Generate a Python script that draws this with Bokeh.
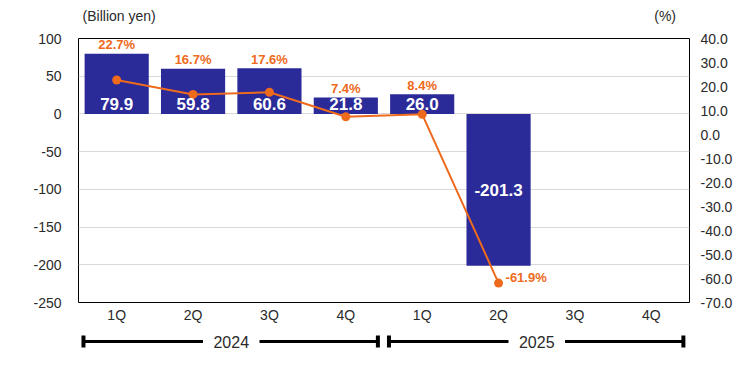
import numpy as np
from bokeh.plotting import figure
from bokeh.layouts import column
from bokeh.models import Range1d, LinearAxis, FixedTicker, NumeralTickFormatter
from bokeh.core.properties import value
from bokeh.embed import file_html
from bokeh.resources import INLINE

# ---- data ----
quarters = ["1Q", "2Q", "3Q", "4Q", "1Q", "2Q", "3Q", "4Q"]
years = ["2024", "2025"]
profit = [79.9, 59.8, 60.6, 21.8, 26.0, -201.3]      # Billion yen
margin = [22.7, 16.7, 17.6, 7.4, 8.4, -61.9]         # %
left_ticks = [100, 50, 0, -50, -100, -150, -200, -250]
right_ticks = [40, 30, 20, 10, 0, -10, -20, -30, -40, -50, -60, -70]
unit_left = "(Billion yen)"
unit_right = "(%)"

NAVY = "#2B2A99"
ORANGE = "#EE6A1C"
FONT = "Liberation Sans"
TXT = "#2A2A2A"

n = len(profit)
xs = np.arange(1, n + 1)

W = 745
BL, BR = 78, 56

# ---- top strip with unit labels ----
H0 = 28
p0 = figure(width=W, height=H0, output_backend="svg", toolbar_location=None,
            x_range=Range1d(0, W), y_range=Range1d(0, H0),
            min_border_left=0, min_border_right=0, min_border_top=0, min_border_bottom=0)
p0.axis.visible = False
p0.grid.visible = False
p0.outline_line_color = None
p0.text(x=[5], y=[13], text=[unit_left], text_font=value(FONT), text_font_size="14px",
        text_color=TXT, text_align="left", text_baseline="middle")
p0.text(x=[702], y=[13], text=[unit_right], text_font=value(FONT), text_font_size="14px",
        text_color=TXT, text_align="left", text_baseline="middle")

# ---- main chart ----
p = figure(width=W, height=302, output_backend="svg", toolbar_location=None,
           x_range=Range1d(0.5, len(quarters) + 0.5), y_range=Range1d(-250, 100),
           min_border_left=BL, min_border_right=BR, min_border_top=10, min_border_bottom=28)
p.extra_y_ranges = {"pct": Range1d(-70, 40)}
p.outline_line_color = "black"
p.outline_line_width = 1
p.background_fill_color = "white"
p.border_fill_color = "white"

p.xgrid.visible = False
p.ygrid.ticker = FixedTicker(ticks=left_ticks)
p.ygrid.grid_line_color = "#D9D9D9"

p.yaxis.ticker = FixedTicker(ticks=left_ticks)
p.yaxis.formatter = NumeralTickFormatter(format="0")
p.xaxis.ticker = FixedTicker(ticks=list(range(1, len(quarters) + 1)))
p.xaxis.major_label_overrides = {i + 1: q for i, q in enumerate(quarters)}
for ax in (p.xaxis[0], p.yaxis[0]):
    ax.axis_line_color = None
    ax.major_tick_line_color = None
    ax.minor_tick_line_color = None
    ax.major_tick_out = 0
    ax.major_tick_in = 0
    ax.minor_tick_out = 0
    ax.major_label_text_font = FONT
    ax.major_label_text_font_size = "14px"
    ax.major_label_text_color = TXT
p.yaxis.major_label_standoff = 17
p.xaxis.major_label_standoff = 4

raxis = LinearAxis(y_range_name="pct", ticker=FixedTicker(ticks=right_ticks),
                   formatter=NumeralTickFormatter(format="0.0"))
raxis.axis_line_color = None
raxis.major_tick_line_color = None
raxis.minor_tick_line_color = None
raxis.major_tick_out = 0
raxis.major_tick_in = 0
raxis.major_label_text_font = FONT
raxis.major_label_text_font_size = "14px"
raxis.major_label_text_color = TXT
raxis.major_label_standoff = 11
p.add_layout(raxis, "right")

p.vbar(x=xs, top=profit, width=0.84, color=NAVY, line_color=None)

p.line(x=xs, y=margin, y_range_name="pct", color=ORANGE, line_width=2)
p.scatter(x=xs, y=margin, y_range_name="pct", size=9, color=ORANGE, line_color=None)

pos_i = [i for i in range(n) if profit[i] >= 0]
neg_i = [i for i in range(n) if profit[i] < 0]
p.text(x=[xs[i] for i in pos_i], y=[0] * len(pos_i), text=[f"{profit[i]:.1f}" for i in pos_i],
       text_font=value(FONT), text_font_style="bold", text_font_size="17px", text_color="white",
       text_align="center", text_baseline="middle", y_offset=-10)
p.text(x=[xs[i] for i in neg_i], y=[profit[i] / 2 for i in neg_i], text=[f"{profit[i]:.1f}" for i in neg_i],
       text_font=value(FONT), text_font_style="bold", text_font_size="17px", text_color="white",
       text_align="center", text_baseline="middle")

p.text(x=[xs[i] for i in pos_i], y=[profit[i] for i in pos_i], text=[f"{margin[i]:.1f}%" for i in pos_i],
       text_font=value(FONT), text_font_style="bold", text_font_size="13px", text_color=ORANGE,
       text_align="center", text_baseline="middle", y_offset=-9)
p.text(x=[xs[i] for i in neg_i], y=[margin[i] for i in neg_i], text=[f"{margin[i]:.1f}%" for i in neg_i],
       y_range_name="pct",
       text_font=value(FONT), text_font_style="bold", text_font_size="13px", text_color=ORANGE,
       text_align="left", text_baseline="middle", x_offset=7, y_offset=-6)

# ---- year brackets ----
H = 32
p2 = figure(width=W, height=H, output_backend="svg", toolbar_location=None,
            x_range=p.x_range, y_range=Range1d(0, H),
            min_border_left=BL, min_border_right=BR, min_border_top=0, min_border_bottom=0)
p2.axis.visible = False
p2.grid.visible = False
p2.outline_line_color = None
p2.border_fill_color = "white"

yl = 21
starts, ends, centers = [], [], []
for k in range(len(years)):
    starts.append(4 * k + 0.565)
    ends.append(4 * k + 4.42)
    centers.append(4 * k + 2.5)
gap = 0.37
p2.segment(x0=starts + [c + gap for c in centers], y0=[yl] * 4,
           x1=[c - gap for c in centers] + ends, y1=[yl] * 4, line_color="black", line_width=3)
p2.segment(x0=starts + ends, y0=[yl - 6] * 4, x1=starts + ends, y1=[yl + 6] * 4,
           line_color="black", line_width=4)
p2.text(x=centers, y=[yl] * len(centers), text=years, text_font=value(FONT), text_font_size="16px",
        text_color=TXT, text_align="center", text_baseline="middle")

layout = column(p0, p, p2, spacing=0)
open("out.html", "w").write(file_html(layout, INLINE))
